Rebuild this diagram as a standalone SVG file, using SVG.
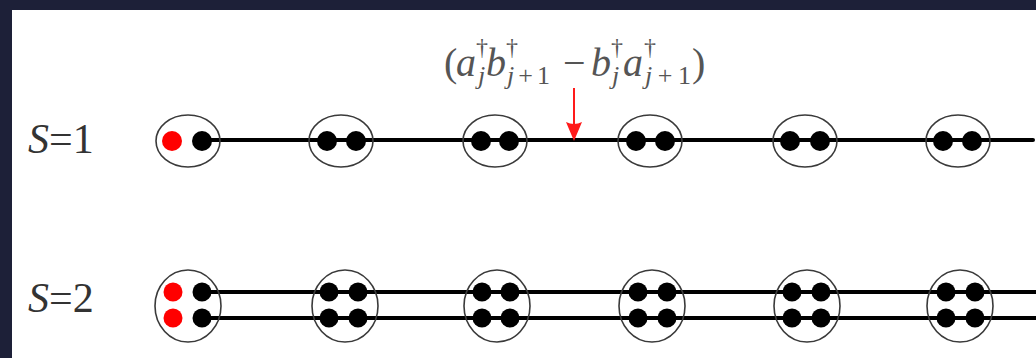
<svg xmlns="http://www.w3.org/2000/svg" width="1036" height="358" viewBox="0 0 1036 358">
<defs>
<style>
.site{fill:none;stroke:#3a3a3a;stroke-width:1.6}
.bk{fill:#000}
.rd{fill:#ff0000}
.bond{stroke:#000;stroke-width:4;stroke-linecap:round;fill:none}
.lbl{font-family:"Liberation Serif",serif;font-size:42px;fill:#333}
.fm{font-family:"Liberation Serif",serif;fill:#555}
.big{font-size:40px}
.sup{font-size:24px}
.sub{font-size:26px}
.it{font-style:italic}
</style>
</defs>
<rect width="1036" height="358" fill="#1d2038"/>
<rect x="12" y="10" width="1024" height="348" fill="#ffffff"/>

<g id="labels">
<text class="lbl" x="28" y="153"><tspan class="it">S</tspan>=1</text>
<text class="lbl" x="28" y="312"><tspan class="it">S</tspan>=2</text>
</g>

<g id="formula" class="fm">
<text class="big" x="444" y="76">(</text>
<text class="big it" x="456" y="76">a</text>
<text class="sup" x="476" y="55">†</text>
<text class="sub it" x="478" y="84">j</text>
<text class="big it" x="486" y="76">b</text>
<text class="sup" x="506" y="55">†</text>
<text class="sub" x="507" y="84" textLength="43" lengthAdjust="spacing"><tspan class="it">j</tspan>+1</text>
<text class="big" x="563" y="76">−</text>
<text class="big it" x="591" y="76">b</text>
<text class="sup" x="611" y="55">†</text>
<text class="sub it" x="612" y="84">j</text>
<text class="big it" x="623" y="76">a</text>
<text class="sup" x="644" y="55">†</text>
<text class="sub" x="645" y="84" textLength="46" lengthAdjust="spacing"><tspan class="it">j</tspan>+1</text>
<text class="big" x="692" y="76">)</text>
</g>

<g id="connectors">
<line class="bond" x1="202" y1="140" x2="1033" y2="140"/>
<line class="bond" x1="202" y1="292" x2="1040" y2="292"/>
<line class="bond" x1="202" y1="318" x2="1040" y2="318"/>
<g id="arrow">
<line x1="574" y1="88" x2="574" y2="126" stroke="#ff1a1a" stroke-width="2"/>
<path d="M566,122 Q574,126 582,122 L574,141 Z" fill="#ff1a1a"/>
</g>
</g>

<g id="s1-site1"><ellipse class="site" cx="188" cy="141" rx="32" ry="26"/><circle class="rd" cx="172" cy="141" r="10"/><circle class="bk" cx="202" cy="141" r="10"/></g>
<g id="s1-site2"><ellipse class="site" cx="341" cy="141" rx="32" ry="26"/><circle class="bk" cx="327" cy="141" r="10"/><circle class="bk" cx="356" cy="141" r="10"/></g>
<g id="s1-site3"><ellipse class="site" cx="495" cy="141" rx="32" ry="26"/><circle class="bk" cx="481" cy="141" r="10"/><circle class="bk" cx="509" cy="141" r="10"/></g>
<g id="s1-site4"><ellipse class="site" cx="650" cy="141" rx="32" ry="26"/><circle class="bk" cx="636" cy="141" r="10"/><circle class="bk" cx="665" cy="141" r="10"/></g>
<g id="s1-site5"><ellipse class="site" cx="805" cy="141" rx="32" ry="26"/><circle class="bk" cx="790" cy="141" r="10"/><circle class="bk" cx="820" cy="141" r="10"/></g>
<g id="s1-site6"><ellipse class="site" cx="958" cy="141" rx="32" ry="26"/><circle class="bk" cx="943" cy="141" r="10"/><circle class="bk" cx="972" cy="141" r="10"/></g>

<g id="s2-site1"><ellipse class="site" cx="188" cy="306" rx="33" ry="36"/><circle class="rd" cx="173" cy="292" r="9.5"/><circle class="rd" cx="173" cy="318" r="9.5"/><circle class="bk" cx="202" cy="292" r="9.5"/><circle class="bk" cx="202" cy="318" r="9.5"/></g>
<g id="s2-site2"><ellipse class="site" cx="345" cy="306" rx="33" ry="36"/><circle class="bk" cx="329" cy="292" r="9.5"/><circle class="bk" cx="329" cy="318" r="9.5"/><circle class="bk" cx="358" cy="292" r="9.5"/><circle class="bk" cx="358" cy="318" r="9.5"/></g>
<g id="s2-site3"><ellipse class="site" cx="497" cy="306" rx="33" ry="36"/><circle class="bk" cx="482" cy="292" r="9.5"/><circle class="bk" cx="482" cy="318" r="9.5"/><circle class="bk" cx="510" cy="292" r="9.5"/><circle class="bk" cx="510" cy="318" r="9.5"/></g>
<g id="s2-site4"><ellipse class="site" cx="652" cy="306" rx="33" ry="36"/><circle class="bk" cx="638" cy="292" r="9.5"/><circle class="bk" cx="638" cy="318" r="9.5"/><circle class="bk" cx="667" cy="292" r="9.5"/><circle class="bk" cx="667" cy="318" r="9.5"/></g>
<g id="s2-site5"><ellipse class="site" cx="807" cy="306" rx="33" ry="36"/><circle class="bk" cx="792" cy="292" r="9.5"/><circle class="bk" cx="792" cy="318" r="9.5"/><circle class="bk" cx="821" cy="292" r="9.5"/><circle class="bk" cx="821" cy="318" r="9.5"/></g>
<g id="s2-site6"><ellipse class="site" cx="960" cy="306" rx="33" ry="36"/><circle class="bk" cx="946" cy="292" r="9.5"/><circle class="bk" cx="946" cy="318" r="9.5"/><circle class="bk" cx="975" cy="292" r="9.5"/><circle class="bk" cx="975" cy="318" r="9.5"/></g>
</svg>
